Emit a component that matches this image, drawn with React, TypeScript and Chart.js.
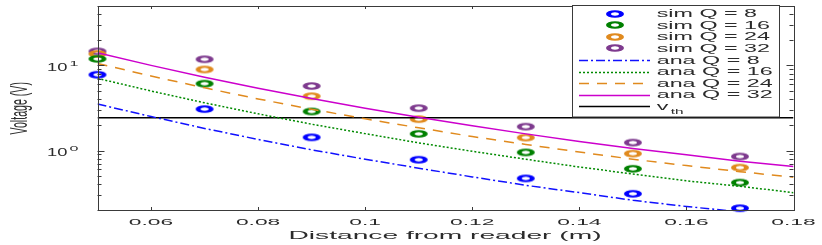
import React, { useEffect, useRef } from "react";
import { Chart, registerables } from "chart.js";

Chart.register(...registerables);

// ---- data ----
const xSim = [0.05, 0.07, 0.09, 0.11, 0.13, 0.15, 0.17];
const simQ8 = [7.78, 3.07, 1.43, 0.78, 0.47, 0.31, 0.21];
const simQ16 = [11.96, 6.11, 2.88, 1.57, 0.95, 0.61, 0.42];
const simQ24 = [13.67, 8.97, 4.35, 2.34, 1.42, 0.92, 0.63];
const simQ32 = [14.66, 11.83, 5.73, 3.15, 1.91, 1.24, 0.85];

const xAna = [0.05, 0.06, 0.07, 0.08, 0.09, 0.1, 0.11, 0.12, 0.13, 0.14, 0.15, 0.16, 0.17, 0.18];
const anaQ8 = [3.52, 2.51, 1.82, 1.35, 1.02, 0.79, 0.62, 0.49, 0.39, 0.32, 0.26, 0.22, 0.19, 0.16];
const anaQ16 = [7.05, 5.01, 3.64, 2.7, 2.04, 1.58, 1.23, 0.98, 0.79, 0.64, 0.53, 0.44, 0.38, 0.32];
const anaQ24 = [10.57, 7.52, 5.46, 4.04, 3.06, 2.36, 1.85, 1.46, 1.18, 0.96, 0.79, 0.665, 0.565, 0.485];
const anaQ32 = [14.09, 10.02, 7.28, 5.39, 4.08, 3.15, 2.46, 1.95, 1.57, 1.28, 1.06, 0.89, 0.75, 0.65];

const xVth = [0.05, 0.18];
const vthValues = [2.43, 2.43];

const xTicks = [0.06, 0.08, 0.1, 0.12, 0.14, 0.16, 0.18];
const xTickLabels = ["0.06", "0.08", "0.1", "0.12", "0.14", "0.16", "0.18"];
const yMajorTicks = [1, 10];
const yMajorExp = ["0", "1"];
const yMinorTicks = [0.2, 0.3, 0.4, 0.5, 0.6, 0.7, 0.8, 0.9, 2, 3, 4, 5, 6, 7, 8, 9, 20, 30, 40, 50];

const simLabels = ["sim Q = 8", "sim Q = 16", "sim Q = 24", "sim Q = 32"];
const anaLabels = ["ana Q = 8", "ana Q = 16", "ana Q = 24", "ana Q = 32"];
const vthLabel = ["v", "th"];
const xTitle = "Distance from reader (m)";
const yTitle = "Voltage (V)";

// ---- styles ----
const FONT = "'Liberation Sans', Arial, Helvetica, sans-serif";
const simColors = ["#0000FF", "#008000", "#E08A1E", "#7E3A8E"];
const anaColors = ["#1010FF", "#008A00", "#E08A1E", "#CC00CC"];
const anaDash = [[9, 3, 2, 3], [2, 2], [10, 8], []];

function ringImage(color: string) {
  const c = document.createElement("canvas");
  c.width = 24;
  c.height = 10;
  const g = c.getContext("2d")!;
  g.save();
  g.translate(12, 5);
  g.scale(2.4, 1);
  g.beginPath();
  g.arc(0, 0, 2.7, 0, Math.PI * 2);
  g.lineWidth = 2.1;
  g.strokeStyle = color;
  g.stroke();
  g.restore();
  return c;
}

function text(
  ctx: CanvasRenderingContext2D,
  s: string,
  x: number,
  y: number,
  size: number,
  sx: number,
  align: CanvasTextAlign = "left",
  baseline: CanvasTextBaseline = "alphabetic",
  color = "#2b2b2b"
) {
  ctx.save();
  ctx.translate(x, y);
  ctx.scale(sx, 1);
  ctx.font = `${size}px ${FONT}`;
  ctx.textAlign = align;
  ctx.textBaseline = baseline;
  ctx.fillStyle = color;
  ctx.fillText(s, 0, 0);
  ctx.restore();
}

export default function App() {
  const ref = useRef<HTMLCanvasElement | null>(null);

  useEffect(() => {
    const canvas = ref.current;
    if (!canvas) return;
    const rings = simColors.map(ringImage);

    const frame = {
      id: "frame",
      afterDatasetsDraw(chart: any) {
        const { ctx, chartArea: a, scales } = chart;
        const xs = scales.x;
        const ys = scales.y;
        ctx.save();
        // axis box
        ctx.strokeStyle = "#3a3a3a";
        ctx.lineWidth = 1;
        ctx.strokeRect(Math.round(a.left) + 0.5, Math.round(a.top) + 0.5, Math.round(a.right - a.left), Math.round(a.bottom - a.top));
        ctx.beginPath();
        xTicks.forEach((t) => {
          const px = Math.round(xs.getPixelForValue(t)) + 0.5;
          ctx.moveTo(px, a.bottom);
          ctx.lineTo(px, a.bottom - 3);
          ctx.moveTo(px, a.top);
          ctx.lineTo(px, a.top + 3);
        });
        yMajorTicks.forEach((t) => {
          const py = Math.round(ys.getPixelForValue(t)) + 0.5;
          ctx.moveTo(a.left, py);
          ctx.lineTo(a.left + 7, py);
          ctx.moveTo(a.right, py);
          ctx.lineTo(a.right - 7, py);
        });
        yMinorTicks.forEach((t) => {
          const py = Math.round(ys.getPixelForValue(t)) + 0.5;
          ctx.moveTo(a.left, py);
          ctx.lineTo(a.left + 4, py);
          ctx.moveTo(a.right, py);
          ctx.lineTo(a.right - 4, py);
        });
        ctx.stroke();

        // x tick labels
        xTicks.forEach((t, i) => {
          text(ctx, xTickLabels[i], xs.getPixelForValue(t), 225, 9.5, 2.4, "center");
        });
        // y tick labels 10^n
        yMajorTicks.forEach((t, i) => {
          const py = ys.getPixelForValue(t);
          text(ctx, "10", 67.5, py + 5.5, 10.5, 1.75, "right");
          text(ctx, yMajorExp[i], 69.5, py + 0.5, 8, 2, "left");
        });
        // axis titles
        text(ctx, xTitle, 445, 238.5, 11.5, 2.45, "center");
        ctx.save();
        ctx.translate(20.5, 108.3);
        ctx.scale(2.2, 1);
        ctx.rotate(-Math.PI / 2);
        ctx.font = `10.6px ${FONT}`;
        ctx.textAlign = "center";
        ctx.textBaseline = "middle";
        ctx.fillStyle = "#2b2b2b";
        ctx.fillText(yTitle, 0, 0);
        ctx.restore();

        // legend
        const lx = 572.5, ly = 5.5, lw = 207, lh = 111.5;
        ctx.fillStyle = "#ffffff";
        ctx.fillRect(lx, ly, lw, lh);
        ctx.strokeStyle = "#3a3a3a";
        ctx.lineWidth = 1;
        ctx.strokeRect(lx, ly, lw, lh);
        const rowY = (i: number) => 13.5 + i * 11.6;
        simLabels.forEach((lab, i) => {
          const y = rowY(i);
          ctx.drawImage(rings[i], 615 - 12, Math.round(y) - 5);
          text(ctx, lab, 656.7, y + 3.6, 10, 2.33);
        });
        anaLabels.forEach((lab, i) => {
          const y = Math.round(rowY(i + 4)) + 0.5;
          ctx.save();
          ctx.strokeStyle = anaColors[i];
          ctx.lineWidth = 1.5;
          ctx.setLineDash(anaDash[i]);
          ctx.beginPath();
          ctx.moveTo(579, y);
          ctx.lineTo(650, y);
          ctx.stroke();
          ctx.restore();
          text(ctx, lab, 656.7, rowY(i + 4) + 3.6, 10, 2.33);
        });
        {
          const y = Math.round(rowY(8)) + 0.5;
          ctx.save();
          ctx.strokeStyle = "#000";
          ctx.lineWidth = 1.5;
          ctx.beginPath();
          ctx.moveTo(579, y);
          ctx.lineTo(650, y);
          ctx.stroke();
          ctx.restore();
          text(ctx, vthLabel[0], 656.7, rowY(8) + 3.6, 10, 2.33);
          text(ctx, vthLabel[1], 670.7, 114, 7.7, 2.0);
        }
        ctx.restore();
      },
    };

    const simSets = [simQ8, simQ16, simQ24, simQ32].map((arr, i) => ({
      label: simLabels[i],
      data: xSim.map((x, j) => ({ x, y: arr[j] })),
      showLine: false,
      pointStyle: rings[i],
      pointRadius: 5,
      pointHoverRadius: 5,
      borderColor: simColors[i],
      backgroundColor: simColors[i],
      clip: false as any,
      order: 2,
    }));
    const anaSets = [anaQ8, anaQ16, anaQ24, anaQ32].map((arr, i) => ({
      label: anaLabels[i],
      data: xAna.map((x, j) => ({ x, y: arr[j] })),
      borderColor: anaColors[i],
      borderWidth: 1.5,
      borderDash: anaDash[i],
      pointRadius: 0,
      tension: 0,
      fill: false,
      order: 1,
    }));
    const vthSet = {
      label: "vth",
      data: xVth.map((x, j) => ({ x, y: vthValues[j] })),
      borderColor: "#000000",
      borderWidth: 1.5,
      pointRadius: 0,
      order: 1,
    };

    const chart = new Chart(canvas, {
      type: "line",
      data: { datasets: [...simSets, ...anaSets, vthSet] as any },
      options: {
        responsive: false,
        animation: false,
        devicePixelRatio: 1,
        layout: { padding: { left: 97.5, right: 28.5, top: 5, bottom: 35 } },
        plugins: { legend: { display: false }, tooltip: { enabled: false } },
        scales: {
          x: { type: "linear", min: 0.05, max: 0.18, display: false },
          y: { type: "logarithmic", min: 0.2, max: 50, display: false },
        },
      },
      plugins: [frame],
    });
    return () => chart.destroy();
  }, []);

  return (
    <div style={{ position: "fixed", left: 0, top: 0, width: 822, height: 245, background: "#fff" }}>
      <canvas ref={ref} width={822} height={245} style={{ width: 822, height: 245, display: "block" }} />
    </div>
  );
}
